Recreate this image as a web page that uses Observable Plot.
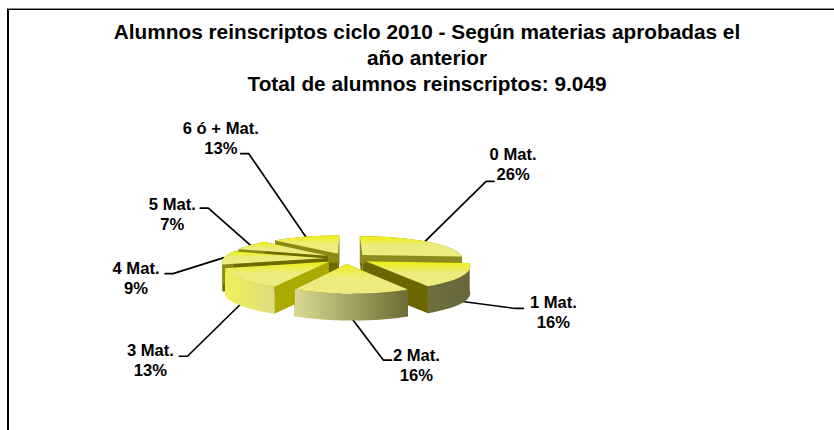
<!DOCTYPE html>
<html><head><meta charset="utf-8">
<script src="https://cdn.jsdelivr.net/npm/d3@7"></script>
<script src="https://cdn.jsdelivr.net/npm/@observablehq/plot@0.6"></script>
<style>
html,body{margin:0;padding:0;background:#fff}
#page{position:relative;width:834px;height:430px;overflow:hidden;font-family:"Liberation Sans",Arial,sans-serif;color:#000}
#frame{position:absolute;left:7px;top:9px;width:900px;height:500px;border-left:2px solid #000;border-top:1px solid #000;box-shadow:0 -1px 0 #888;box-sizing:border-box}
#title{position:absolute;left:60px;top:19px;width:734px;text-align:center;font-size:20.8px;font-weight:bold;line-height:26px;margin:0}
#chart{position:absolute;left:0;top:100px}
</style></head>
<body><div id="page"><div id="frame"></div>
<h1 id="title">Alumnos reinscriptos ciclo 2010 - Según materias aprobadas el<br>año anterior<br>Total de alumnos reinscriptos: 9.049</h1>
<div id="chart"></div></div>
<script>
// data
const categories = ["0 Mat.", "1 Mat.", "2 Mat.", "3 Mat.", "4 Mat.", "5 Mat.", "6 ó + Mat."];
const percents = [26, 16, 16, 13, 9, 7, 13];

// layout (separate from the data): leader elbow and label offsets, in px from the slice rim
const leaderDx = [61, 53, 31, -53, -51, -42, -57];
const leaderDy = [-60, 7, 41, 52, 16, -37, -83];
const labelDx = [27, 38, 33, -37, -37, -36, -28];
const labelDy = [-18, 3, 4, 3, 4, 5, -16];
const anchorDepth = [0, 1, 1, 1, 0, 0, 0];
const drawOrder = [0, 6, 5, 4, 3, 1, 2];
const sideStops = [
  ["#8a8a20", "#8a8a20"], ["#6e6e3e", "#66663a"], ["#dada94", "#6c6c34"],
  ["#f0f058", "#dcdc80"], ["#8c8c10", "#8c8c10"], ["#8a8a10", "#8a8a10"], ["#8a8a10", "#8a8a10"]
];
const cutColors = ["#6b6b00", "#6b6700", "#6b6b00", "#aaaa00", "#6b6b00", "#6b6b00", "#6b6b00"];

const W = 834, H = 330, CX = 346, CY = 158;
const R = 101, V = 23.9, PX = 0.15, PY = 0.166, DEPTH = 27, EXPLODE = 0.22, SKEW = 4;

// project world coordinates of the pie plane to offsets from the pie centre
const project = (X, Y, d = 0) => ({
  x: X * R * (1 + PX * Y) + SKEW * Math.max(Y, 0) ** 2,
  y: Y * V * (1 + PY * Y) + d
});
const tau = 2 * Math.PI;
const total = d3.sum(percents);
let acc = 0;
const slices = percents.map((p, i) => {
  const a0 = acc / total * tau; acc += p; const a1 = acc / total * tau; const mid = (a0 + a1) / 2;
  return {i, a0, a1, mid, ex: EXPLODE * Math.sin(mid), ey: -EXPLODE * Math.cos(mid)};
});
const rim = (s, a, d = 0) => project(s.ex + Math.sin(a), s.ey - Math.cos(a), d);
const apex = (s, d = 0) => project(s.ex, s.ey, d);
const arc = (s, d = 0) => d3.range(41).map(k => rim(s, s.a0 + (s.a1 - s.a0) * k / 40, d));

const poly = (pts, fill) => Plot.line(pts, {x: "x", y: "y", fill, stroke: "none", curve: "linear"});

const gradients = () => {
  const defs = d3.create("svg:defs");
  const top = defs.append("linearGradient").attr("id", "top").attr("x1", 0).attr("x2", 0).attr("y1", 0).attr("y2", 1);
  top.append("stop").attr("offset", "0").attr("stop-color", "#eeee10");
  top.append("stop").attr("offset", "0.45").attr("stop-color", "#ecec7c");
  top.append("stop").attr("offset", "1").attr("stop-color", "#ecec80");
  sideStops.forEach(([a, b], i) => {
    const g = defs.append("linearGradient").attr("id", `side${i}`);
    g.append("stop").attr("offset", "0").attr("stop-color", a);
    g.append("stop").attr("offset", "1").attr("stop-color", b);
  });
  return defs.node();
};

const leaders = slices.map(s => {
  const d = anchorDepth[s.i] * DEPTH;
  const a = rim(s, s.mid, d * 0.95);
  const e = {x: a.x + leaderDx[s.i], y: a.y + leaderDy[s.i]};
  const stub = {x: e.x + Math.sign(leaderDx[s.i]) * 8, y: e.y};
  return {s, pts: [a, e, stub], e};
});
const labelRows = leaders.map(l => ({
  text: `${categories[l.s.i]}\n${percents[l.s.i]}%`,
  x: l.e.x + labelDx[l.s.i], y: l.e.y + labelDy[l.s.i]
}));

const pieMarks = drawOrder.flatMap(i => {
  const s = slices[i];
  const cut = a => [apex(s), rim(s, a), rim(s, a, DEPTH), apex(s, DEPTH)];
  const top = arc(s), bottom = arc(s, DEPTH).reverse();
  return [
    poly(cut(s.a0), cutColors[i]),
    poly(cut(s.a1), cutColors[i]),
    poly([...top, ...bottom], `url(#side${i})`),
    poly([apex(s), ...top], "url(#top)")
  ];
});

const plot = Plot.plot({
  width: W, height: H, margin: 0,
  x: {domain: [-CX, W - CX], range: [0, W], axis: null},
  y: {domain: [-CY, H - CY], range: [0, H], axis: null},
  marks: [
    gradients,
    ...leaders.map(l => Plot.line(l.pts, {x: "x", y: "y", stroke: "#000", strokeWidth: 1.7, curve: "linear"})),
    ...pieMarks,
    Plot.text(labelRows, {x: "x", y: "y", text: "text", fontFamily: "Liberation Sans", fontWeight: "bold", fontSize: 16.6, lineHeight: 1.2, fill: "#000", textAnchor: "middle"})
  ]
});
document.getElementById("chart").append(plot);
</script></body></html>
